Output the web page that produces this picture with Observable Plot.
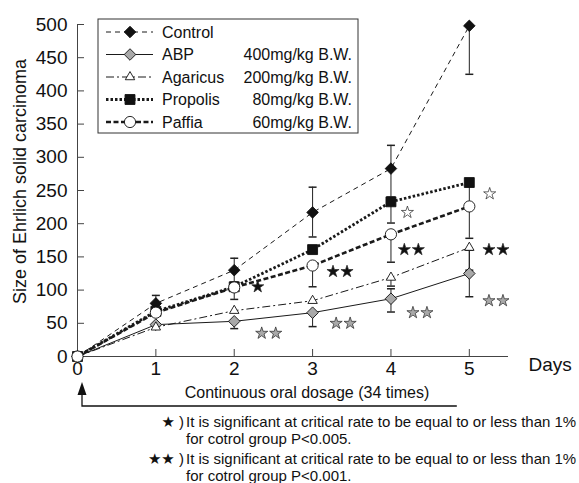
<!DOCTYPE html>
<html>
<head>
<meta charset="utf-8">
<script src="https://cdn.jsdelivr.net/npm/d3@7"></script>
<script src="https://cdn.jsdelivr.net/npm/@observablehq/plot@0.6"></script>
<style>
  body { margin: 0; background: white; font-family: "Liberation Sans", Arial, sans-serif; color: #111; }
  #notes { position: relative; width: 579px; height: 71px; font-size: 15px; line-height: 17px; }
  #notes div { position: absolute; white-space: nowrap; }
  #notes .mark { text-align: right; width: 70px; left: 114px; }
  #notes .txt { left: 186px; }
  #notes .star { font-family: "DejaVu Sans", sans-serif; font-size: 15px; }
</style>
</head>
<body>
<div id="chart"></div>
<div id="notes">
  <div class="mark" style="top:1px"><span class="star">★</span> )</div>
  <div class="txt" style="top:1px">It is significant at critical rate to be equal to or less than 1%</div>
  <div class="txt" style="top:18px">for cotrol group P&lt;0.005.</div>
  <div class="mark" style="top:38px"><span class="star">★★</span> )</div>
  <div class="txt" style="top:38px">It is significant at critical rate to be equal to or less than 1%</div>
  <div class="txt" style="top:55px">for cotrol group P&lt;0.001.</div>
</div>
<script>
// Tumour size by day after inoculation, per treatment group
const days = [0, 1, 2, 3, 4, 5];
const yTicks = [0, 50, 100, 150, 200, 250, 300, 350, 400, 450, 500];

const groups = ["Control", "ABP", "Agaricus", "Propolis", "Paffia"];
const doses = ["", "400mg/kg B.W.", "200mg/kg B.W.", "80mg/kg B.W.", "60mg/kg B.W."];

const control  = [0, 80, 130, 217, 283, 498];
const abp      = [0, 48, 53, 66, 87, 125];
const agaricus = [0, 44, 69, 84, 119, 164];
const propolis = [0, 68, 105, 161, 233, 262];
const paffia   = [0, 66, 104, 137, 184, 226];

// error-bar ends (null = no bar drawn on that side)
const controlLow   = [null, 68, 112, 180, 240, 425];
const controlHigh  = [null, 92, 148, 255, 318, null];
const abpLow       = [null, null, 42, 45, 67, 90];
const abpHigh      = [null, null, null, null, 102, 160];
const agaricusLow  = [null, null, null, null, 106, 130];
const agaricusHigh = [null, null, null, null, null, null];
const propolisLow  = [null, null, null, null, 201, 230];
const propolisHigh = [null, null, null, null, null, null];
const paffiaLow    = [null, null, 86, 105, 142, 178];
const paffiaHigh   = [null, null, null, null, null, null];

// significance marks: position, number of stars, kind
const starDay   = [2.3, 2.44, 3.35, 3.39, 4.21, 4.26, 4.37, 5.26, 5.34, 5.34];
const starValue = [105, 35, 128, 50, 217, 161, 66, 245, 161, 84];
const starCount = [1, 2, 2, 2, 1, 2, 2, 1, 2, 2];
const starKind  = ["black", "gray", "black", "gray", "white", "black", "gray", "white", "black", "gray"];

const values = [control, abp, agaricus, propolis, paffia];
const lows = [controlLow, abpLow, agaricusLow, propolisLow, paffiaLow];
const highs = [controlHigh, abpHigh, agaricusHigh, propolisHigh, paffiaHigh];

const styles = [
  {dash: "5,4",     width: 1,   symbol: d3.symbolDiamond2,  name: "diamond2",  fill: "#111",    r: 5.2},
  {dash: null,      width: 1,   symbol: d3.symbolDiamond2,  name: "diamond2",  fill: "#a9a9a9", r: 5.2},
  {dash: "8,3,2,3", width: 1,   symbol: d3.symbolTriangle2, name: "triangle2", fill: "white",   r: 4.5},
  {dash: "2.5,2",   width: 2.8, symbol: d3.symbolSquare,    name: "square",    fill: "#111",    r: 5.6},
  {dash: "5,2.5",   width: 2.6, symbol: d3.symbolCircle,    name: "circle",    fill: "white",   r: 5.6}
];

const series = groups.map((g, k) => days.map((d, i) => ({
  group: g, day: d, value: values[k][i], low: lows[k][i], high: highs[k][i]
})));

// horizontal cap for error bars
const capSymbol = {draw(ctx, size) { const h = Math.sqrt(size) / 2; ctx.moveTo(-h, 0); ctx.lineTo(h, 0); }};

const starFill = {black: "#111", gray: "#a9a9a9", white: "white"};
const stars = starDay.map((d, i) => ({day: d, value: starValue[i], count: starCount[i], kind: starKind[i]}));

const marks = [];
// axes
marks.push(
  Plot.axisX({ticks: days, tickSize: 0, tickPadding: 5, fontSize: 19, label: null, tickFormat: d => d}),
  Plot.axisY({ticks: yTicks, tickSize: 0, tickPadding: 10, fontSize: 19, label: null}),
  Plot.tickX(days.slice(1), {x: d => d, insetTop: 325, stroke: "#444"}),
  Plot.tickY(yTicks.slice(1), {y: d => d, insetRight: 424, stroke: "#444"}),
  Plot.ruleX([0], {stroke: "#444"}),
  Plot.ruleY([0], {stroke: "#444"}),
  Plot.text(["Size of Ehrlich solid carcinoma"], {frameAnchor: "left", textAnchor: "middle", rotate: -90, dx: -57, dy: -9, fontSize: 18, fill: "#111"}),
  Plot.text(["Days"], {frameAnchor: "bottom-right", textAnchor: "start", dx: 20, dy: 14, fontSize: 19, fill: "#111"})
);
// lines
series.forEach((rows, k) => {
  const s = styles[k];
  marks.push(Plot.line(rows, {x: "day", y: "value", stroke: "#1a1a1a", strokeWidth: s.width, strokeDasharray: s.dash, strokeLinecap: "butt"}));
});
// error bars
series.forEach(rows => {
  const withBar = rows.filter(d => d.low != null || d.high != null);
  marks.push(Plot.ruleX(withBar, {x: "day", y1: d => d.low ?? d.value, y2: d => d.high ?? d.value, stroke: "#222"}));
  marks.push(Plot.dot(rows.filter(d => d.low != null), {x: "day", y: "low", symbol: capSymbol, r: 4.5, fill: "none", stroke: "#222"}));
  marks.push(Plot.dot(rows.filter(d => d.high != null), {x: "day", y: "high", symbol: capSymbol, r: 4.5, fill: "none", stroke: "#222"}));
});
// markers
series.forEach((rows, k) => {
  const s = styles[k];
  marks.push(Plot.dot(rows, {x: "day", y: "value", symbol: s.name, r: s.r, fill: s.fill, stroke: "#111", strokeWidth: 0.9}));
});
// significance stars
const starOpts = {x: "day", y: "value", symbol: "star", r: 3.8, fill: d => starFill[d.kind], stroke: "#222", strokeWidth: 0.7};
marks.push(
  Plot.dot(stars.filter(d => d.count === 1), starOpts),
  Plot.dot(stars.filter(d => d.count === 2), {...starOpts, dx: -7}),
  Plot.dot(stars.filter(d => d.count === 2), {...starOpts, dx: 7})
);

const chart = Plot.plot({
  width: 579,
  height: 412,
  marginTop: 24,
  marginBottom: 56,
  marginLeft: 77,
  marginRight: 71,
  x: {domain: [0, 5.5]},
  y: {domain: [0, 500]},
  style: {fontFamily: "'Liberation Sans', Arial, sans-serif", color: "#111", background: "white", overflow: "visible"},
  marks
});
document.getElementById("chart").appendChild(chart);

// legend box and dosing arrow, in the same SVG
const svg = d3.select(chart);
const xs = chart.scale("x");
const leg = svg.append("g").attr("text-anchor", "start");
const boxX = 98, boxY = 19, boxW = 260, boxH = 114, rowH = 22.5;
leg.append("rect").attr("x", boxX).attr("y", boxY).attr("width", boxW).attr("height", boxH)
  .attr("fill", "white").attr("stroke", "#333").attr("stroke-width", 1);
groups.forEach((g, k) => {
  const s = styles[k];
  const y = boxY + 13 + k * rowH;
  leg.append("line").attr("x1", boxX + 8).attr("x2", boxX + 55).attr("y1", y).attr("y2", y)
    .attr("stroke", "#1a1a1a").attr("stroke-width", s.width).attr("stroke-dasharray", s.dash);
  leg.append("path").attr("d", d3.symbol(s.symbol, Math.PI * s.r * s.r)())
    .attr("transform", `translate(${boxX + 32},${y})`)
    .attr("fill", s.fill).attr("stroke", "#111").attr("stroke-width", 0.9);
  leg.append("text").attr("x", boxX + 64).attr("y", y).attr("dy", "0.36em").attr("text-anchor", "start")
    .attr("font-size", 16).attr("fill", "#111").text(g);
  leg.append("text").attr("x", boxX + boxW - 6).attr("y", y).attr("dy", "0.36em")
    .attr("text-anchor", "end").attr("font-size", 16).attr("fill", "#111").text(doses[k]);
});

const ax = xs.apply(0) + 5;
const lineY = 406, tipY = 382;
const arrow = svg.append("g").attr("stroke", "#111").attr("fill", "#111");
arrow.append("path").attr("d", `M${ax},${tipY + 10}V${lineY}H${xs.apply(5) - 12}`).attr("fill", "none").attr("stroke-width", 1.3);
arrow.append("path").attr("d", `M${ax},${tipY}L${ax - 4.5},${tipY + 13}L${ax + 4.5},${tipY + 13}Z`).attr("stroke", "none");
svg.append("text").attr("x", 307).attr("y", 398).attr("text-anchor", "middle")
  .attr("font-size", 16).attr("fill", "#111").text("Continuous oral dosage (34 times)");
</script>
</body>
</html>
